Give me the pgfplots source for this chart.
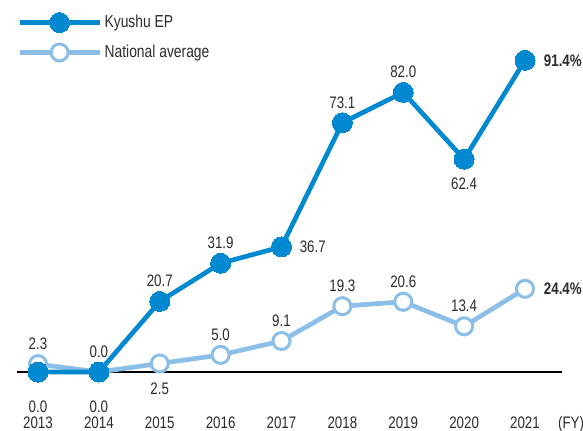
\documentclass[border=0pt]{standalone}
\usepackage{fontspec}
\setmainfont{Liberation Sans}[FakeStretch=0.8]
\usepackage{pgfplots}
\pgfplotsset{compat=1.18}
\definecolor{kep}{HTML}{0088D0}
\definecolor{nat}{HTML}{8CBFE8}
\definecolor{txt}{HTML}{2B2B2B}
\newcommand{\lblfont}{\fontsize{12.5}{14}\selectfont}
\begin{document}
\begin{tikzpicture}
\path[use as bounding box] (0,0) rectangle (437.25pt,322.5pt);
\begin{axis}[
  at={(12.75pt,43.5pt)}, anchor=south west,
  scale only axis, width=408.75pt, height=255.75pt,
  xmin=2012.655, xmax=2021.608, ymin=0, ymax=100,
  axis x line*=bottom, axis y line=none,
  x axis line style={black, line width=0.8pt, -},
  xtick={2013,2014,2015,2016,2017,2018,2019,2020,2021},
  xticklabels={2013,2014,2015,2016,2017,2018,2019,2020,2021},
  major tick length=0pt,
  xticklabel style={font=\lblfont, text=txt, anchor=base, yshift=-42pt},
  clip=false,
  legend image code/.code={\draw[mark repeat=2,mark phase=2,#1] plot coordinates {(0pt,0pt) (30pt,0pt) (60pt,0pt)};},
  legend style={draw=none, fill=none, inner sep=0pt, at={(axis description cs:0,1)}, anchor=north west, yshift=14pt,
    nodes={inner sep=0pt, text=txt, font=\fontsize{13}{15}\selectfont}, column sep=2pt, row sep=8.5pt},
  legend cell align=left,
]
\addlegendimage{kep, line width=3.5pt, mark=*, mark size=7.5pt, mark options={fill=kep, draw=kep, line width=0pt}}
\addlegendentry{Kyushu EP}
\addlegendimage{nat, line width=3.5pt, mark=*, mark size=6.4pt, mark options={fill=white, draw=nat, line width=2.25pt}}
\addlegendentry{National average}

% National average
\addplot[forget plot, nat, line width=3.5pt, mark=*, mark size=6.4pt, mark options={fill=white, draw=nat, line width=2.25pt}]
 coordinates {(2013,2.3) (2014,0.0) (2015,2.5) (2016,5.0) (2017,9.1) (2018,19.3) (2019,20.6) (2020,13.4) (2021,24.4)};
% Kyushu EP
\addplot[forget plot, kep, line width=3.5pt, mark=*, mark size=7.5pt, mark options={fill=kep, draw=kep, line width=0pt}]
 coordinates {(2013,0.0) (2014,0.0) (2015,20.7) (2016,31.9) (2017,36.7) (2018,73.1) (2019,82.0) (2020,62.4) (2021,91.4)};

% labels above
\addplot[forget plot, draw=none, mark=none, nodes near coords, point meta=explicit symbolic,
  nodes near coords style={anchor=base, yshift=11pt, font=\lblfont, text=txt, inner sep=0pt}]
 coordinates {(2015,20.7)[20.7] (2016,31.9)[31.9] (2018,73.1)[73.1] (2019,82.0)[82.0]
  (2013,2.3)[2.3] (2014,0)[0.0] (2016,5.0)[5.0] (2017,9.1)[9.1] (2018,19.3)[19.3] (2019,20.6)[20.6] (2020,13.4)[13.4]};
% labels below
\addplot[forget plot, draw=none, mark=none, nodes near coords, point meta=explicit symbolic,
  nodes near coords style={anchor=base, yshift=-23pt, font=\lblfont, text=txt, inner sep=0pt}]
 coordinates {(2015,2.5)[2.5] (2020,62.4)[62.4]};
\addplot[forget plot, draw=none, mark=none, nodes near coords, point meta=explicit symbolic,
  nodes near coords style={anchor=base, yshift=-30.5pt, font=\lblfont, text=txt, inner sep=0pt}]
 coordinates {(2013,0)[0.0] (2014,0)[0.0]};
% labels right
\addplot[forget plot, draw=none, mark=none, nodes near coords, point meta=explicit symbolic,
  nodes near coords style={anchor=west, xshift=13.5pt, yshift=0pt, font=\lblfont, text=txt, inner sep=0pt}]
 coordinates {(2017,36.7)[36.7]};
\addplot[forget plot, draw=none, mark=none, nodes near coords, point meta=explicit symbolic,
  nodes near coords style={anchor=west, xshift=14pt, font=\lblfont\bfseries, text=txt, inner sep=0pt}]
 coordinates {(2021,91.4)[91.4\%] (2021,24.4)[24.4\%]};

\node[anchor=base, font=\lblfont, text=txt, yshift=-42pt] at (axis cs:2021.756,0) {(FY)};
\end{axis}
\end{tikzpicture}
\end{document}
